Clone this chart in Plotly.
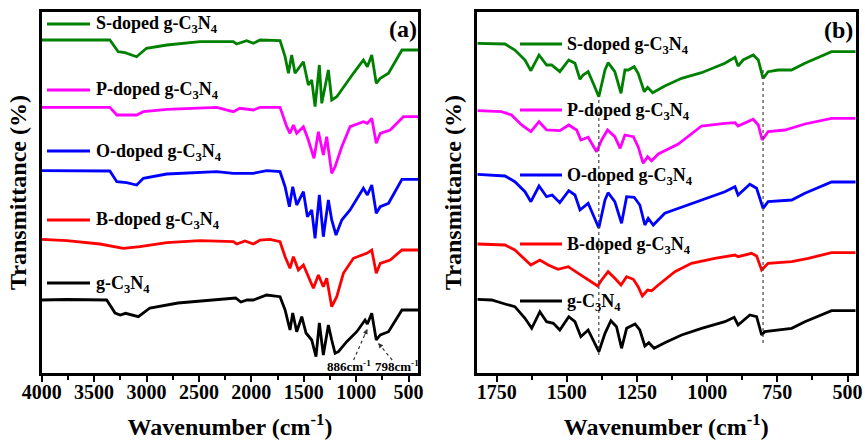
import plotly.graph_objects as go

W, H = 865, 441
FONT = "Liberation Serif, Times New Roman, serif"

# ---------------- series labels / colours ----------------
labels = ["S-doped g-C<sub>3</sub>N<sub>4</sub>",
          "P-doped g-C<sub>3</sub>N<sub>4</sub>",
          "O-doped g-C<sub>3</sub>N<sub>4</sub>",
          "B-doped g-C<sub>3</sub>N<sub>4</sub>",
          "g-C<sub>3</sub>N<sub>4</sub>"]
colors = ["#008000", "#ff00ff", "#0000ff", "#ff0000", "#000000"]

# ---------------- panel (a): full range (offset transmittance, a.u.) ----------------
a_s_wn = [4000, 3350, 3270, 3205, 3095, 3000, 2805, 2490, 2172, 2140, 2045, 1980, 1917, 1822, 1726, 1678,
          1646, 1615, 1583, 1503, 1456, 1424, 1392, 1351, 1328, 1265, 1233, 1185, 1137, 1026, 931, 893,
          851, 808, 770, 691, 563, 400]
a_s_t = [333, 333, 321.3, 320.3, 316.3, 324.7, 328, 331.3, 331.3, 329, 332.3, 329.7, 333, 333, 332.3, 316.3,
         299.7, 318, 299.7, 311.3, 288, 293, 266.3, 308, 269.7, 303, 273, 276.3, 283, 299.7, 313, 306.3,
         318, 289.7, 294.7, 299.7, 323, 323]

a_p_wn = [4000, 3350, 3283, 3094, 3030, 2807, 2330, 2172, 2110, 1980, 1917, 1822, 1726, 1662, 1631, 1599,
          1567, 1503, 1456, 1402, 1360, 1313, 1281, 1233, 1201, 1137, 1058, 931, 893, 851, 808, 770, 675,
          549, 400]
a_p_t = [265.7, 265.7, 258, 258, 261.3, 263.7, 265.7, 261.3, 264.7, 263, 265.7, 265.7, 265.7, 246.3, 239.7, 248,
         239.7, 246.3, 233, 214.7, 241.3, 218, 236.3, 199.7, 206.3, 226.3, 246.3, 251.3, 249.7, 254.7, 229.7,
         239.7, 243, 256.3, 256.3]

a_o_wn = [4000, 3350, 3283, 3190, 3094, 3030, 2807, 2330, 2172, 1981, 1853, 1726, 1678, 1637, 1605, 1567,
          1503, 1465, 1424, 1392, 1351, 1313, 1265, 1233, 1192, 1137, 1058, 931, 893, 851, 808, 770, 691,
          563, 400]
a_o_t = [202.3, 202, 191.3, 190.3, 188, 194.7, 199, 201.3, 199.7, 199.7, 202.3, 201.3, 186.3, 166.3, 186.3, 168,
         181.3, 156.3, 163, 134.7, 178, 136.3, 173, 153, 138, 153, 163, 184.7, 178, 188, 159.7, 166.3, 169.7,
         193.7, 193.7]

a_b_wn = [4000, 3762, 3444, 3221, 3062, 2807, 2489, 2172, 2139, 2060, 1981, 1917, 1822, 1726, 1678, 1631,
          1599, 1551, 1503, 1456, 1408, 1360, 1313, 1281, 1233, 1185, 1122, 1026, 899, 851, 808, 770, 675,
          563, 400]
a_b_t = [133.7, 132.3, 129, 124.7, 126.3, 130.3, 132.3, 131.3, 129, 132, 129, 133, 133.7, 131.3, 116.3, 104.7,
         116.3, 103, 108, 96.3, 84.7, 98, 86.3, 94.7, 66.3, 76.3, 99.7, 114.7, 119.7, 123, 99.7, 109.7, 113,
         123, 123]

a_g_wn = [4000, 3762, 3380, 3300, 3250, 3200, 3078, 2967, 2700, 2363, 2150, 2100, 2040, 1980, 1853, 1726,
          1678, 1631, 1605, 1567, 1519, 1478, 1424, 1383, 1351, 1313, 1265, 1233, 1201, 1169, 1090, 994,
          915, 893, 851, 808, 770, 691, 563, 400]
a_g_t = [73, 73.5, 73, 60, 58, 59.7, 56.3, 65, 70, 73, 75, 71, 73, 73, 78, 76.3,
         63, 43, 60, 41.3, 56.3, 40, 33, 16.3, 50, 18, 48, 33, 19.7, 21.3, 31.3, 41.3,
         53, 49, 59.7, 33, 38, 41.3, 63, 63]

# ---------------- panel (b): 1820-470 cm-1 zoom ----------------
b_s_wn = [1818, 1720, 1685, 1649, 1628, 1599, 1572, 1554, 1525, 1493, 1471, 1453, 1442, 1424, 1406, 1386,
          1364, 1353, 1329, 1307, 1293, 1281, 1260, 1246, 1224, 1212, 1194, 1151, 1091, 1020, 937, 901,
          890, 872, 836, 818, 801, 783, 747, 700, 652, 557, 471]
b_s_t = [329.7, 329, 323, 313, 302.3, 318, 308, 308, 301.3, 313, 309.7, 293.7, 298, 301.3, 289.7, 276.3,
         303, 310.3, 301.3, 279.7, 303, 303, 306.3, 299.7, 281.3, 285.7, 280.3, 287, 294.7, 300.3, 309.7, 315.7,
         307, 313, 318, 313, 294.7, 301.3, 303, 303, 309.7, 321.3, 321.3]

b_p_wn = [1818, 1732, 1697, 1661, 1628, 1599, 1572, 1548, 1525, 1493, 1465, 1450, 1424, 1394, 1376, 1355,
          1329, 1310, 1293, 1263, 1246, 1228, 1212, 1198, 1174, 1103, 1056, 1020, 937, 901, 890, 836,
          818, 804, 783, 723, 652, 557, 471]
b_p_t = [262.3, 261.3, 258, 248, 241.3, 251.3, 243, 243, 242.3, 248, 243, 233, 235.7, 221.3, 233, 243,
         236.3, 224.7, 238, 236.3, 226.3, 209.7, 216.3, 212.3, 219, 229, 239.7, 247, 249.7, 250.3, 247, 253.7,
         248, 233, 241.3, 243, 249, 254.7, 254.7]

b_o_wn = [1818, 1720, 1685, 1649, 1628, 1599, 1572, 1552, 1525, 1493, 1471, 1453, 1424, 1386, 1364, 1353,
          1329, 1305, 1287, 1260, 1240, 1222, 1210, 1192, 1151, 1091, 1020, 937, 901, 890, 848, 824,
          801, 783, 699, 652, 557, 471]
b_o_t = [198.7, 197, 191.3, 181.3, 171.3, 187, 176.3, 178, 170.3, 182.3, 178, 163, 169.7, 145, 173, 180.3,
         171.3, 149.7, 176.3, 175.7, 168, 148, 154.7, 148, 159.7, 165.7, 173, 181.3, 186.3, 178, 188.7, 184.7,
         164.7, 171.3, 173, 179.7, 191, 191]

b_b_wn = [1818, 1720, 1685, 1649, 1628, 1596, 1566, 1531, 1495, 1459, 1424, 1390, 1376, 1353, 1329, 1307,
          1287, 1263, 1246, 1231, 1212, 1198, 1174, 1115, 1056, 973, 901, 890, 842, 824, 806, 783,
          699, 640, 557, 471]
b_b_t = [129, 128, 123, 113, 108, 113, 108, 103.7, 106.3, 99.7, 93, 87, 93, 101.3, 94.7, 88,
         96.3, 93.7, 86.3, 77, 83, 82.3, 88, 101.3, 109.7, 114.7, 118, 116.3, 119.7, 117, 103, 109.7,
         111.3, 114.7, 120.3, 120.3]

b_g_wn = [1818, 1768, 1720, 1685, 1649, 1625, 1596, 1572, 1548, 1525, 1493, 1471, 1450, 1424, 1386, 1364,
          1343, 1323, 1305, 1287, 1257, 1240, 1222, 1208, 1189, 1151, 1091, 1020, 937, 904, 890, 848,
          824, 806, 795, 747, 699, 652, 557, 471]
b_g_t = [73.7, 73, 69, 66.3, 54.7, 44.7, 61.3, 51.3, 49.7, 43, 56.3, 51.3, 36.3, 43, 21.3, 39.7,
         52.3, 46.3, 24.7, 44.7, 49, 43, 27, 30.3, 24.7, 30.3, 38, 44.7, 51.3, 55.7, 48, 58,
         56.3, 38, 41.3, 43, 44.7, 51.3, 62.3, 62.3]

# reference bands marked in panel (b) (cm-1) and vertical extent of the guide lines
b_marks_wn = [1386, 801]
b_marks_top = [276, 305]
b_marks_bot = [18, 30]

# peak labels in panel (a)
a_peak_labels = ["886cm<sup>-1</sup>", "798cm<sup>-1</sup>"]
a_peak_wn = [893, 790]
a_peak_t = [44, 30]
a_label_wn = [1068, 612]
a_label_t = [7, 7]

panel_a = [(a_s_wn, a_s_t), (a_p_wn, a_p_t), (a_o_wn, a_o_t), (a_b_wn, a_b_t), (a_g_wn, a_g_t)]
panel_b = [(b_s_wn, b_s_t), (b_p_wn, b_p_t), (b_o_wn, b_o_t), (b_b_wn, b_b_t), (b_g_wn, b_g_t)]

fig = go.Figure()
for (wn, t), name, c in zip(panel_a, labels, colors):
    fig.add_trace(go.Scatter(x=wn, y=t, mode="lines", name=name, showlegend=False,
                             line=dict(color=c, width=2.8), xaxis="x", yaxis="y"))
for (wn, t), name, c in zip(panel_b, labels, colors):
    fig.add_trace(go.Scatter(x=wn, y=t, mode="lines", name=name, showlegend=False,
                             line=dict(color=c, width=2.8), xaxis="x2", yaxis="y2"))


def px2x(px):
    return px / W


def px2y(py):
    return 1 - py / H


XA = [41.7, 418.3]
XB = [476.7, 855.7]
YD = [px2y(373), px2y(12)]

tickfont = dict(family=FONT, size=20, color="black", weight="bold")
titlefont = dict(family=FONT, size=24, color="black", weight="bold")

common_x = dict(showgrid=False, zeroline=False, showline=True, linecolor="black", linewidth=2.5,
                mirror=True, ticks="outside", ticklen=6, tickwidth=2, tickcolor="black",
                tickfont=tickfont, automargin=False, ticklabelstandoff=-7)
common_y = dict(showgrid=False, zeroline=False, showline=True, linecolor="black", linewidth=2.5,
                mirror=True, ticks="", showticklabels=False, range=[0, 361], domain=YD,
                automargin=False)

fig.update_layout(
    width=W, height=H, margin=dict(l=0, r=0, t=0, b=0, autoexpand=False),
    paper_bgcolor="white", plot_bgcolor="white", showlegend=False,
    xaxis=dict(**common_x, domain=[px2x(XA[0]), px2x(XA[1])], range=[4000, 407], anchor="y",
               tickmode="linear", tick0=500, dtick=500,
               minor=dict(ticks="outside", ticklen=4, tickwidth=2, tickcolor="black", tick0=0, dtick=250),
               title=dict(text="Wavenumber (cm<sup>-1</sup>)", font=titlefont, standoff=17)),
    xaxis2=dict(**common_x, domain=[px2x(XB[0]), px2x(XB[1])], range=[1821, 471], anchor="y2",
                tickmode="linear", tick0=500, dtick=250,
                minor=dict(ticks="outside", ticklen=4, tickwidth=2, tickcolor="black", tick0=0, dtick=125),
                title=dict(text="Wavenumber (cm<sup>-1</sup>)", font=titlefont, standoff=17)),
    yaxis=dict(**common_y, anchor="x",
               title=dict(text="Transmittance (%)", font=titlefont, standoff=6)),
    yaxis2=dict(**common_y, anchor="x2",
                title=dict(text="Transmittance (%)", font=titlefont, standoff=6)),
)

shapes = []
annotations = []

# in-plot legends (line sample + label)
leg_a_y = [24, 90, 151, 220, 283]
leg_b_y = [44, 110, 175, 244, 301]
for lab, c, ya, yb in zip(labels, colors, leg_a_y, leg_b_y):
    for (x0, x1, xt, yy) in [(47, 90, 94, ya), (520, 562, 565, yb)]:
        shapes.append(dict(type="line", xref="paper", yref="paper", x0=px2x(x0), x1=px2x(x1),
                           y0=px2y(yy), y1=px2y(yy), line=dict(color=c, width=3)))
        annotations.append(dict(xref="paper", yref="paper", x=px2x(xt), y=px2y(yy + 1), text=lab,
                                showarrow=False, xanchor="left", yanchor="middle",
                                font=dict(family=FONT, size=18, color="black", weight="bold")))

# panel tags
annotations.append(dict(xref="paper", yref="paper", x=px2x(403), y=px2y(29), text="(a)", showarrow=False,
                        xanchor="center", yanchor="middle",
                        font=dict(family=FONT, size=24, color="black", weight="bold")))
annotations.append(dict(xref="paper", yref="paper", x=px2x(838), y=px2y(30), text="(b)", showarrow=False,
                        xanchor="center", yanchor="middle",
                        font=dict(family=FONT, size=24, color="black", weight="bold")))

# dotted guide lines in panel (b)
for wn, t0, t1 in zip(b_marks_wn, b_marks_top, b_marks_bot):
    shapes.append(dict(type="line", xref="x2", yref="y2", x0=wn, x1=wn, y0=t1, y1=t0,
                       line=dict(color="#444444", width=1.2, dash="dot")))

# peak labels with dotted arrows in panel (a)
for lab, pw, pt, lw, lt in zip(a_peak_labels, a_peak_wn, a_peak_t, a_label_wn, a_label_t):
    annotations.append(dict(xref="x", yref="y", x=lw, y=lt, text=lab, showarrow=False,
                            xanchor="center", yanchor="middle",
                            font=dict(family=FONT, size=13, color="black", weight="bold")))
    tail_t = lt + 6
    tail_w = lw - (lw - pw) * 0.25
    shapes.append(dict(type="line", xref="x", yref="y", x0=tail_w, y0=tail_t, x1=pw, y1=pt,
                       line=dict(color="#333333", width=1.2, dash="dot")))
    annotations.append(dict(xref="x", yref="y", x=pw, y=pt, text="", showarrow=True,
                            axref="x", ayref="y", ax=pw + (tail_w - pw) * 0.25, ay=pt + (tail_t - pt) * 0.25,
                            arrowhead=2, arrowsize=1, arrowwidth=1, arrowcolor="#333333", standoff=0))

fig.update_layout(shapes=shapes, annotations=annotations)
fig.write_html("out.html", config={"displayModeBar": False},
               post_script="document.body.style.margin='0';document.body.style.padding='0';")
